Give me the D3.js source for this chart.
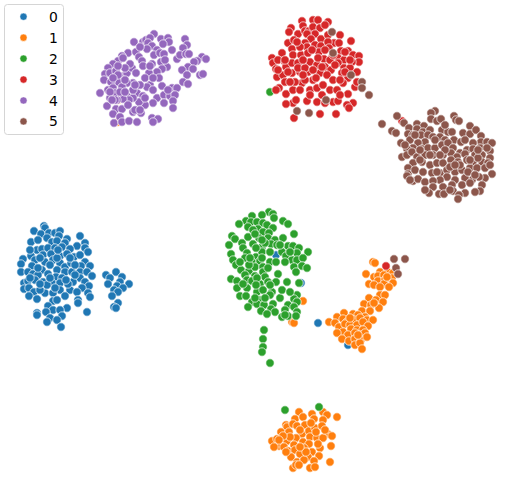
<!DOCTYPE html>
<html>
<head>
<meta charset="utf-8">
<script src="https://cdn.jsdelivr.net/npm/d3@7.9.0/dist/d3.min.js"></script>
<style>
  html, body { margin: 0; padding: 0; background: #fff; }
  svg { display: block; }
  text { font-family: "DejaVu Sans", sans-serif; }
</style>
</head>
<body>
<div id="vis"></div>
<script>
// tsne-like embedding, values
const labels = ["0", "1", "2", "3", "4", "5"];
const colors = ["#1f77b4", "#ff7f0e", "#2ca02c", "#d62728", "#9467bd", "#8c564b"];

const cluster0 = [[44,226],[45,228],[34,231],[41,234],[49,233],[55,233],[60,231],[59,236],[31,242],[38,240],[47,238],[52,242],[57,241],[67,239],[65,243],[80,236],[85,243],[77,246],[85,248],[88,252],[37,250],[42,249],[48,248],[55,248],[62,247],[70,249],[31,256],[43,255],[51,254],[60,256],[67,254],[74,257],[80,255],[35,260],[45,262],[53,260],[60,263],[65,267],[71,263],[23,259],[21,264],[32,266],[85,262],[90,266],[81,266],[21,272],[28,272],[42,270],[48,274],[57,270],[65,272],[72,272],[80,272],[87,272],[92,276],[33,274],[38,275],[56,277],[62,278],[80,278],[24,283],[28,281],[35,280],[43,282],[52,283],[60,283],[73,282],[85,282],[89,286],[24,289],[29,288],[34,292],[45,293],[60,290],[70,290],[82,288],[77,292],[88,293],[90,297],[29,296],[37,299],[53,293],[65,296],[78,300],[78,303],[53,301],[48,306],[67,308],[53,310],[60,310],[46,312],[37,313],[37,315],[62,316],[50,318],[47,322],[57,320],[61,327],[87,312],[116,272],[106,275],[110,278],[122,277],[129,284],[120,282],[108,284],[117,286],[123,288],[114,290],[118,292],[112,296],[118,303],[114,307],[116,308],[40,290],[50,265],[75,265],[38,268],[55,288],[68,284],[30,278],[47,285],[57,258],[58,250],[70,258],[40,258],[50,278],[75,275],[66,280],[40,284],[57,300],[30,250],[276,255],[301,283],[318,323],[348,345]];

const cluster1 = [[373,262],[375,263],[366,274],[380,272],[388,272],[393,273],[374,277],[378,276],[384,275],[392,278],[378,281],[385,280],[393,283],[369,284],[374,285],[384,284],[389,287],[380,287],[380,295],[385,295],[369,298],[376,300],[383,302],[364,304],[371,305],[379,308],[362,311],[370,311],[353,314],[358,315],[365,317],[344,313],[337,317],[343,319],[347,322],[354,320],[360,318],[367,320],[373,320],[329,322],[335,323],[339,327],[345,324],[350,325],[357,325],[363,322],[368,326],[343,332],[351,329],[357,330],[363,330],[337,333],[348,335],[355,333],[360,335],[365,333],[342,339],[349,341],[355,339],[361,340],[367,337],[355,345],[360,343],[362,349],[350,318],[358,335],[387,277],[374,303],[303,301],[292,322],[294,323],[299,412],[295,419],[303,417],[312,414],[323,412],[327,415],[337,417],[286,425],[287,427],[293,424],[297,426],[305,425],[314,419],[323,420],[281,432],[289,432],[302,434],[309,431],[315,428],[322,426],[328,434],[332,436],[272,441],[277,439],[287,441],[296,438],[303,442],[310,437],[317,438],[323,438],[279,446],[274,447],[284,447],[294,445],[309,444],[320,448],[331,446],[288,451],[295,450],[304,448],[312,452],[319,456],[291,457],[300,454],[308,457],[297,462],[304,460],[314,461],[330,462],[293,468],[296,465],[310,468],[315,467],[286,452],[299,465],[300,430],[316,432],[290,437],[306,452],[325,430],[283,436],[300,447],[279,440],[311,423],[318,444],[118,100],[118,122]];

const cluster2 = [[269,212],[273,214],[262,215],[252,216],[274,218],[246,221],[239,224],[251,222],[257,222],[263,223],[283,221],[288,224],[248,227],[258,229],[267,225],[273,228],[253,230],[263,232],[269,233],[294,234],[232,236],[235,239],[248,237],[259,238],[268,238],[275,240],[283,238],[242,243],[229,245],[243,248],[253,244],[262,247],[271,244],[277,245],[288,246],[293,246],[231,254],[233,260],[247,253],[256,257],[262,252],[270,252],[282,252],[299,248],[308,252],[297,253],[286,256],[292,260],[245,258],[236,265],[252,262],[260,261],[270,262],[276,262],[285,262],[297,260],[303,258],[294,267],[302,266],[307,268],[241,270],[249,271],[255,267],[263,267],[263,272],[296,272],[245,275],[255,276],[265,277],[278,274],[231,279],[237,281],[247,280],[252,281],[260,284],[268,282],[276,282],[287,282],[299,283],[237,288],[247,288],[257,292],[263,290],[272,292],[240,296],[246,296],[252,302],[260,300],[270,295],[280,298],[297,295],[294,299],[297,302],[248,307],[257,304],[264,305],[273,304],[288,305],[294,307],[261,311],[271,309],[275,312],[285,310],[297,312],[267,314],[282,317],[288,316],[296,316],[264,330],[263,339],[263,347],[262,352],[270,363],[255,234],[265,243],[256,248],[249,265],[257,278],[268,268],[243,284],[256,285],[265,298],[285,315],[262,240],[250,258],[280,245],[270,285],[282,290],[290,292],[255,298],[240,262],[290,252],[262,258],[270,92],[285,410],[319,407]];

const cluster3 = [[313,20],[318,20],[328,22],[302,21],[303,26],[291,28],[289,32],[298,34],[305,31],[309,31],[313,27],[320,28],[315,34],[307,34],[311,39],[321,39],[328,35],[340,35],[334,43],[339,43],[351,41],[288,43],[294,40],[305,43],[292,49],[307,47],[315,45],[321,46],[328,42],[329,48],[341,51],[348,51],[282,53],[272,58],[273,63],[278,60],[285,62],[293,55],[301,55],[308,53],[319,52],[324,59],[332,57],[338,58],[344,60],[353,55],[359,56],[359,62],[352,62],[276,69],[277,77],[286,67],[292,63],[298,63],[310,62],[317,65],[325,67],[331,70],[338,63],[344,68],[350,68],[357,72],[355,87],[357,82],[283,75],[292,73],[300,72],[308,72],[320,73],[327,75],[333,80],[342,73],[348,78],[285,82],[279,88],[276,90],[286,94],[293,90],[302,83],[300,90],[313,80],[310,90],[317,88],[323,85],[330,90],[337,90],[343,83],[348,94],[333,102],[338,101],[317,102],[307,101],[310,95],[293,103],[286,104],[353,103],[347,105],[349,108],[320,114],[336,114],[294,118],[300,47],[312,50],[298,68],[305,68],[313,70],[330,60],[345,52],[288,72],[295,82],[305,80],[318,58],[325,50],[335,65],[340,80],[322,95],[285,60],[303,60],[350,60],[325,25],[297,42],[333,55],[322,67],[290,82],[303,75],[340,95],[345,72],[316,78],[296,100],[325,103],[278,70],[386,266],[402,121]];

const cluster4 = [[154,34],[134,42],[143,42],[146,40],[150,38],[148,43],[152,46],[147,49],[161,39],[168,38],[169,42],[163,44],[185,39],[187,45],[183,48],[172,50],[157,50],[154,55],[160,53],[164,54],[177,59],[180,55],[186,54],[189,54],[202,57],[206,59],[197,61],[194,62],[188,67],[182,70],[193,69],[200,75],[203,74],[187,75],[183,82],[188,84],[128,53],[136,52],[122,56],[139,57],[142,61],[118,61],[113,64],[108,68],[105,74],[104,80],[110,73],[116,71],[123,76],[127,73],[132,68],[136,73],[143,66],[152,64],[161,62],[167,67],[162,69],[157,72],[159,78],[149,73],[145,78],[133,83],[127,83],[118,82],[111,82],[108,90],[100,93],[113,88],[122,87],[128,97],[137,93],[143,96],[150,85],[147,87],[153,90],[162,86],[172,88],[177,88],[157,98],[164,95],[170,96],[175,95],[164,103],[173,101],[173,108],[153,103],[145,105],[139,102],[133,98],[129,100],[123,99],[117,100],[110,98],[107,106],[116,109],[122,109],[113,114],[120,117],[133,112],[141,113],[114,123],[122,122],[129,121],[137,122],[152,118],[158,119],[153,122],[123,58],[130,64],[115,93],[110,92],[135,110],[125,68],[125,80],[150,66],[118,75],[133,90],[128,105],[140,85],[113,78],[120,92],[140,47],[135,85],[125,92],[145,98],[115,100],[168,90],[140,110],[118,66],[112,100],[153,78],[165,60]];

const cluster5 = [[435,111],[431,113],[431,119],[437,121],[441,119],[454,116],[456,120],[459,121],[397,116],[382,124],[392,131],[396,133],[404,123],[417,124],[424,126],[470,126],[409,128],[417,129],[423,132],[430,130],[442,130],[448,132],[452,132],[463,133],[470,134],[476,130],[481,136],[408,134],[413,135],[410,140],[401,143],[421,135],[428,135],[433,137],[440,137],[445,140],[454,140],[461,142],[481,142],[473,143],[487,142],[492,143],[425,142],[418,143],[413,148],[407,149],[402,157],[407,155],[412,152],[422,149],[428,148],[435,148],[442,145],[448,143],[453,148],[460,153],[467,150],[473,149],[480,148],[490,151],[487,148],[433,155],[425,155],[422,162],[417,157],[443,155],[451,153],[457,157],[465,154],[475,155],[482,155],[490,158],[413,163],[408,168],[408,174],[407,176],[415,170],[423,172],[430,165],[437,163],[443,163],[451,160],[458,162],[467,160],[473,162],[482,162],[488,163],[413,181],[418,179],[425,182],[432,173],[440,173],[447,170],[455,172],[462,170],[470,168],[477,168],[485,168],[492,174],[485,178],[479,177],[472,180],[465,178],[455,180],[447,177],[440,180],[433,181],[433,187],[443,187],[452,185],[462,185],[470,183],[482,185],[429,193],[439,194],[444,194],[453,191],[465,193],[459,195],[458,199],[480,191],[420,160],[437,172],[450,167],[468,172],[460,165],[445,150],[478,158],[430,155],[415,135],[465,140],[405,145],[420,150],[440,155],[455,165],[475,175],[490,165],[425,190],[450,190],[475,192],[410,180],[435,140],[470,160],[445,125],[478,150],[332,32],[333,53],[351,75],[362,82],[362,88],[369,95],[326,100],[297,111],[309,113],[394,259],[405,259],[396,268],[398,274]];

const clusters = [cluster0, cluster1, cluster2, cluster3, cluster4, cluster5];

const width = 514;
const height = 491;

const xScale = d3.scaleLinear().domain([0, 514]).range([0, width]);
const yScale = d3.scaleLinear().domain([0, 491]).range([0, height]);
const color = d3.scaleOrdinal().domain(labels).range(colors);

const svg = d3
  .select("#vis")
  .append("svg")
  .attr("width", width)
  .attr("height", height);

// Draw points, one group per label
svg
  .selectAll("g.cluster")
  .data(clusters)
  .enter()
  .append("g")
  .attr("class", "cluster")
  .attr("fill", (d, i) => color(labels[i]))
  .selectAll("circle")
  .data((d) => d)
  .enter()
  .append("circle")
  .attr("cx", (d) => xScale(d[0]))
  .attr("cy", (d) => yScale(d[1]))
  .attr("r", 4.2)
  .attr("stroke", "#fff")
  .attr("stroke-width", 0.7);

// Legend
const legend = svg.append("g").attr("class", "legend");

legend
  .append("rect")
  .attr("x", 4.5)
  .attr("y", 4.5)
  .attr("width", 59)
  .attr("height", 130)
  .attr("rx", 3)
  .attr("fill", "#fff")
  .attr("fill-opacity", 0.8)
  .attr("stroke", "#d5d5d5")
  .attr("stroke-width", 1);

const items = legend
  .selectAll("g.item")
  .data(labels)
  .enter()
  .append("g")
  .attr("class", "item")
  .attr("transform", (d, i) => `translate(0,${16.7 + i * 20.95})`);

items
  .append("circle")
  .attr("cx", 23.5)
  .attr("r", 3.6)
  .attr("fill", (d) => color(d))
  .attr("stroke", "#fff")
  .attr("stroke-width", 0.5);

items
  .append("text")
  .attr("x", 49)
  .attr("y", 5)
  .attr("font-size", 13.9)
  .attr("fill", "#000")
  .text((d) => d);
</script>
</body>
</html>
